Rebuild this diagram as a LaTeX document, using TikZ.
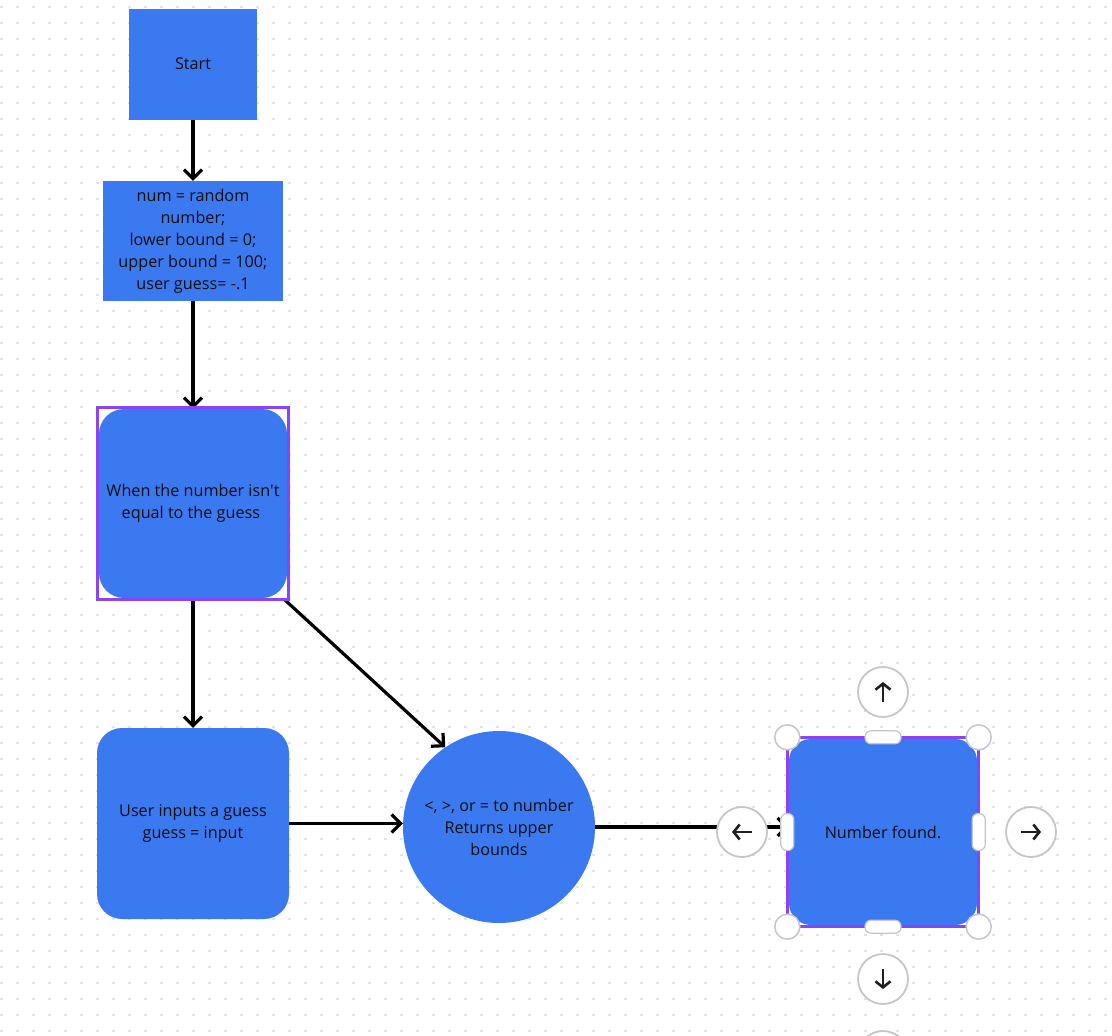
\documentclass[tikz,border=0pt]{standalone}
\usepackage{fontspec}
\setmainfont{Open Sans}
\usetikzlibrary{shapes,positioning,calc,arrows.meta}
\usepackage{xcolor}
\definecolor{boxblue}{HTML}{3B79F1}
\definecolor{selpurple}{HTML}{8A44F5}
\definecolor{dotgrey}{HTML}{E1E3E8}
\definecolor{handlegrey}{HTML}{C4C6CC}
\definecolor{inktext}{HTML}{0E0E10}

\begin{document}
\begin{tikzpicture}[x=1pt,y=-1pt,>={Straight Barb[length=9pt,width=18pt]},
	box/.style={fill=boxblue,text=inktext,align=center,inner sep=0pt,font=\fontsize{16.2}{22}\selectfont},
	flat/.style={box,rectangle},
	soft/.style={box,rectangle,rounded corners=25pt},
	flow/.style={->,line width=3.2pt},
	sel/.style={draw=selpurple,line width=3pt},
	knob/.style={circle,fill=white,draw=handlegrey,line width=1.5pt,minimum size=25pt,inner sep=0pt},
	pill/.style={rectangle,rounded corners=6pt,fill=white,draw=handlegrey,line width=1.2pt,inner sep=0pt},
	btn/.style={circle,fill=white,draw=handlegrey,line width=1.8pt,minimum size=50pt,inner sep=0pt},
	glyph/.style={line width=2.6pt,-{Straight Barb[length=6pt,width=15pt]},draw=black!88}]
	\useasboundingbox (0,0) rectangle (1112,1036);
	\fill[white] (0,0) rectangle (1112,1036);
	\foreach \r in {7,23,...,1031}
		\draw[dotgrey,line width=2.8pt,dash pattern=on 2.8pt off 13.2pt] (0,\r) -- (1112,\r);

	\node[flat,minimum width=128pt,minimum height=111pt] (start) at (193,64) {Start};
	\node[flat,minimum width=180pt,minimum height=120pt] (init) at (193,241) {num = random\\number;\\lower bound = 0;\\upper bound = 100;\\user guess= -.1};
	\node[soft,minimum width=188pt,minimum height=189pt] (loop) at (193,503.5) {When the number isn\textquotesingle t\\equal to the guess\ \ };
	\node[soft,minimum width=192pt,minimum height=191pt] (input) at (193,823.5) {User inputs a guess\\guess = input};
	\node[box,circle,minimum size=192pt] (cmp) at (499,827) {<, >, or = to number\\Returns upper\\bounds};
	\node[soft,rounded corners=22pt,minimum width=188pt,minimum height=186pt] (found) at (883,832) {Number found.};

	\draw[flow] (start) -- (init);
	\draw[flow] (init) -- (loop);
	\draw[flow] (loop) -- (input);
	\draw[flow] ([shift={(-2pt,-2pt)}]loop.south east) -- (cmp.124);
	\draw[flow] (input.east) -- (input.east -| cmp.west);
	\draw[flow] (cmp.east) -- (cmp.east -| found.west);

	% selection frames
	\draw[sel] ([shift={(-1.5pt,1.5pt)}]loop.north west) rectangle ([shift={(1.5pt,-1.5pt)}]loop.south east);
	\draw[sel] ([shift={(-1.5pt,1.5pt)}]found.north west) rectangle ([shift={(1.5pt,-1.5pt)}]found.south east);
	\foreach \a/\dx/\dy [count=\i] in {north west/-1.5/1.5,north east/1.5/1.5,south west/-1.5/-1.5,south east/1.5/-1.5}
		\node[knob] (knob\i) at ([shift={(\dx pt,\dy pt)}]found.\a) {};
	\node[pill,minimum width=36pt,minimum height=13pt] (ptop) at ([yshift=1.5pt]found.north) {};
	\node[pill,minimum width=36pt,minimum height=13pt] (pbot) at ([yshift=-1.5pt]found.south) {};
	\node[pill,minimum width=13pt,minimum height=37pt] (pleft) at ([xshift=-1.5pt]found.west) {};
	\node[pill,minimum width=13pt,minimum height=37pt] (pright) at ([xshift=1.5pt]found.east) {};

	% move buttons
	\node[btn] (bup) at (883,692) {};
	\node[btn] (bleft) at (742,832) {};
	\node[btn] (bright) at (1031,832) {};
	\node[btn] (bdown) at (883,979) {};
	\node[btn] (bmore) at (883,1056) {};
	\draw[glyph] ([yshift=-10pt]bup.center) -- ([yshift=10pt]bup.center);
	\draw[glyph] ([yshift=10pt]bdown.center) -- ([yshift=-10pt]bdown.center);
	\draw[glyph] ([xshift=10pt]bleft.center) -- ([xshift=-10pt]bleft.center);
	\draw[glyph] ([xshift=-10pt]bright.center) -- ([xshift=10pt]bright.center);
\end{tikzpicture}
\end{document}
